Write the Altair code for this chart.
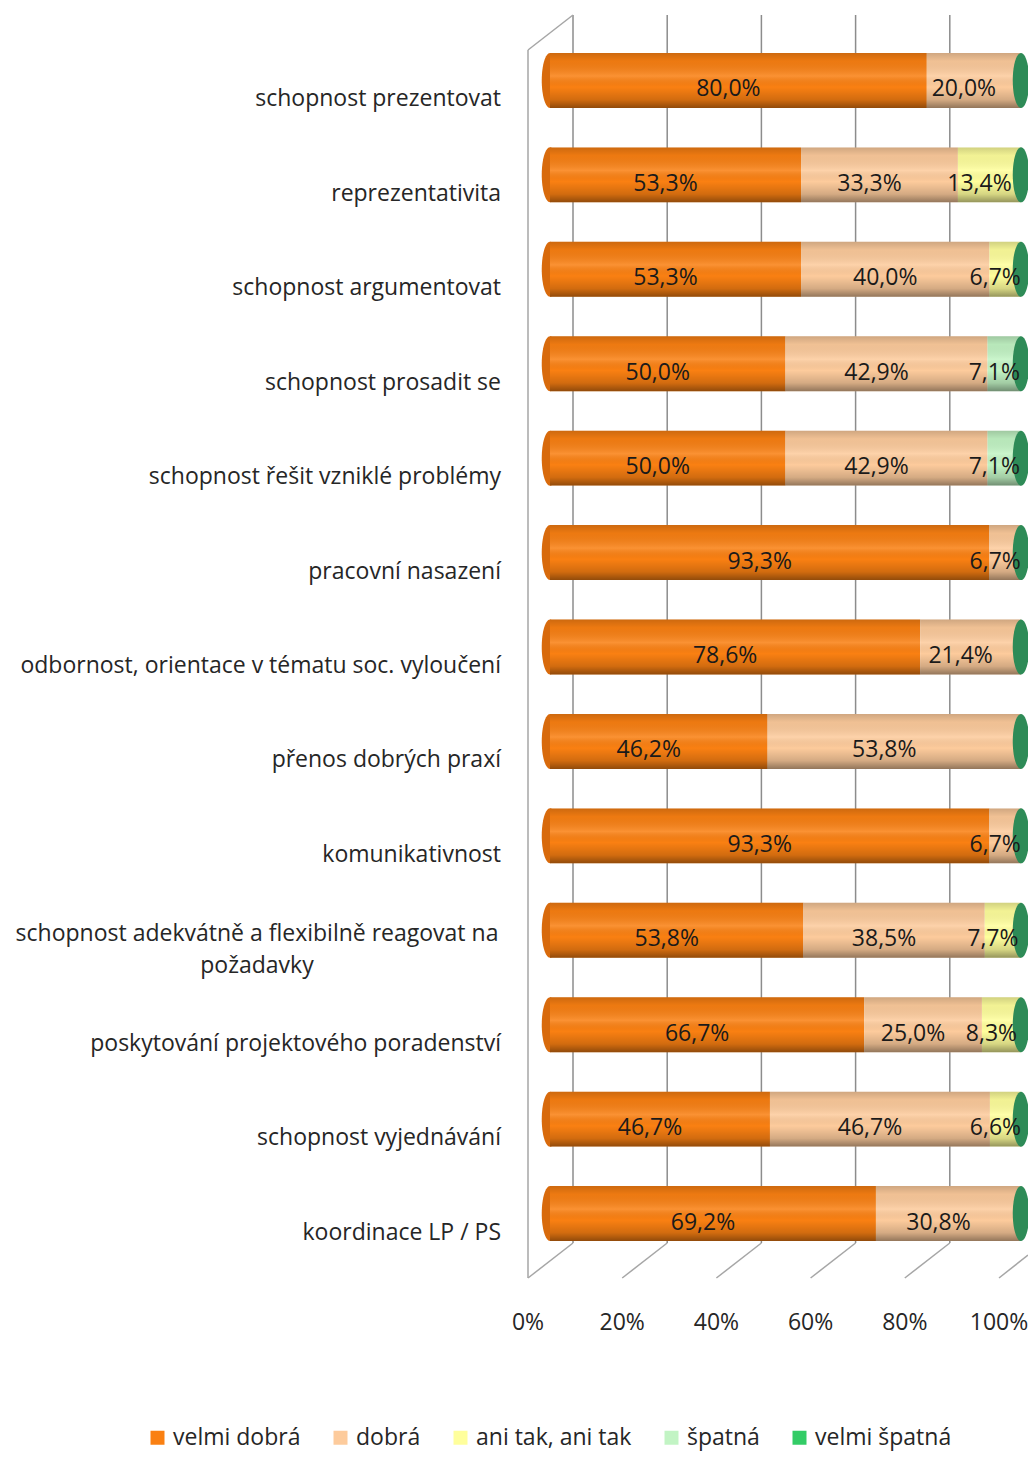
import altair as alt
import pandas as pd

categories = [
    "schopnost prezentovat",
    "reprezentativita",
    "schopnost argumentovat",
    "schopnost prosadit se",
    "schopnost řešit vzniklé problémy",
    "pracovní nasazení",
    "odbornost, orientace v tématu soc. vyloučení",
    "přenos dobrých praxí",
    "komunikativnost",
    "schopnost adekvátně a flexibilně reagovat na\npožadavky",
    "poskytování projektového poradenství",
    "schopnost vyjednávání",
    "koordinace LP / PS",
]
series = ["velmi dobrá", "dobrá", "ani tak, ani tak", "špatná", "velmi špatná"]
velmi_dobra = [80.0, 53.3, 53.3, 50.0, 50.0, 93.3, 78.6, 46.2, 93.3, 53.8, 66.7, 46.7, 69.2]
dobra = [20.0, 33.3, 40.0, 42.9, 42.9, 6.7, 21.4, 53.8, 6.7, 38.5, 25.0, 46.7, 30.8]
ani_tak = [0.0, 13.4, 6.7, 0.0, 0.0, 0.0, 0.0, 0.0, 0.0, 7.7, 8.3, 6.6, 0.0]
spatna = [0.0, 0.0, 0.0, 7.1, 7.1, 0.0, 0.0, 0.0, 0.0, 0.0, 0.0, 0.0, 0.0]
velmi_spatna = [0.0, 0.0, 0.0, 0.0, 0.0, 0.0, 0.0, 0.0, 0.0, 0.0, 0.0, 0.0, 0.0]
x_ticks = [0, 20, 40, 60, 80, 100]

colors = ["#FA8012", "#FDCB9C", "#FFFF9C", "#C2F4C4", "#33CC66"]

all_vals = [velmi_dobra, dobra, ani_tak, spatna, velmi_spatna]
rows = []
for i, c in enumerate(categories):
    for j, s in enumerate(series):
        rows.append({"cat": c, "series": s, "value": all_vals[j][i], "order": j})
df = pd.DataFrame(rows)
gdf = pd.DataFrame({"v": x_ticks})
cdf = pd.DataFrame({"cat": categories})

FONT = "Open Sans"
FS = 23
TXT = "#262626"
xscale = alt.Scale(domain=[0, 100], nice=False, zero=True)
ydef = alt.Y("cat:N", scale=alt.Scale(domain=categories, paddingInner=0.418, paddingOuter=0.402), axis=None)


def xq(field):
    return alt.X(field, scale=xscale, axis=None)


# back wall gridlines
back_grid = alt.Chart(gdf).transform_filter("datum.v < 100").mark_rule(
    color="#8C8C8C", strokeWidth=1.5, xOffset=23, x2Offset=23
).encode(x=xq("v:Q"), x2="v:Q", y=alt.value(0), y2=alt.value(1228))

floor = alt.Chart(gdf).transform_filter("datum.v < 100").mark_rule(
    color="#A6A6A6", strokeWidth=1.5, xOffset=-22, x2Offset=23
).encode(x=xq("v:Q"), x2="v:Q", y=alt.value(1263), y2=alt.value(1228))

floor_last = alt.Chart(gdf).transform_filter("datum.v == 100").mark_rule(
    color="#A6A6A6", strokeWidth=1.5, xOffset=-22, x2Offset=7
).encode(x=xq("v:Q"), x2="v:Q", y=alt.value(1263), y2=alt.value(1240))

wall_v = alt.Chart(gdf).transform_filter("datum.v == 0").mark_rule(
    color="#A6A6A6", strokeWidth=1.5, xOffset=-22, x2Offset=-22
).encode(x=xq("v:Q"), x2="v:Q", y=alt.value(35), y2=alt.value(1263))

wall_d = alt.Chart(gdf).transform_filter("datum.v == 0").mark_rule(
    color="#A6A6A6", strokeWidth=1.5, xOffset=-22, x2Offset=23
).encode(x=xq("v:Q"), x2="v:Q", y=alt.value(35), y2=alt.value(0))

tick_labels = alt.Chart(gdf).transform_calculate(lbl="datum.v + '%'").mark_text(
    font=FONT, fontSize=FS, color=TXT, dx=-22
).encode(x=xq("v:Q"), y=alt.value(1308), text="lbl:N")

ellipse = "M -0.3 0 A 0.3 1 0 1 0 0.3 0 A 0.3 1 0 1 0 -0.3 0 Z"

totals = alt.Chart(df).transform_aggregate(total="sum(value)", groupby=["cat"]).transform_calculate(start="0")

left_cap = totals.mark_point(shape=ellipse, size=3025, filled=True, color="#D86A0C", opacity=1).encode(
    x=xq("start:Q"), y=ydef
)

bars = alt.Chart(df).mark_bar().encode(
    x=alt.X("value:Q", stack="zero", scale=xscale, axis=None),
    y=ydef,
    color=alt.Color("series:N", scale=alt.Scale(domain=series, range=colors),
                    legend=alt.Legend(orient="none", legendX=-404, legendY=1411, direction="horizontal",
                                      title=None, symbolType="square", symbolSize=196, symbolStrokeWidth=0,
                                      labelFont=FONT, labelFontSize=FS, labelColor=TXT,
                                      columnPadding=28, labelOffset=4)),
    order=alt.Order("order:Q"),
)

grad = alt.Gradient(
    gradient="linear", x1=0, x2=0, y1=0, y2=1,
    stops=[
        alt.GradientStop(color="rgba(0,0,0,0.18)", offset=0),
        alt.GradientStop(color="rgba(0,0,0,0.05)", offset=0.15),
        alt.GradientStop(color="rgba(255,255,255,0.14)", offset=0.42),
        alt.GradientStop(color="rgba(0,0,0,0.0)", offset=0.62),
        alt.GradientStop(color="rgba(0,0,0,0.16)", offset=0.85),
        alt.GradientStop(color="rgba(0,0,0,0.42)", offset=1),
    ],
)
overlay = totals.mark_bar(color=grad).encode(x=xq("start:Q"), x2="total:Q", y=ydef)

right_cap = totals.mark_point(shape=ellipse, size=3025, filled=True, color="#2E8B57", opacity=1).encode(
    x=xq("total:Q"), y=ydef
)

values = alt.Chart(df).transform_filter("datum.value > 0").transform_stack(
    stack="value", groupby=["cat"], as_=["x0", "x1"], sort=[alt.SortField("order", "ascending")]
).transform_calculate(
    mid="(datum.x0 + datum.x1) / 2",
    lbl="replace(format(datum.value, '.1f'), '.', ',') + '%'",
).mark_text(font=FONT, fontSize=FS, color="#1a1a1a", dx=-10, dy=9).encode(
    x=xq("mid:Q"), y=ydef, text="lbl:N"
)

cat_single = alt.Chart(cdf).transform_filter("indexof(datum.cat, '\\n') < 0").mark_text(
    align="right", font=FONT, fontSize=FS, color=TXT, dy=19
).encode(x=alt.value(-49), y=ydef, text="cat:N")

cat_multi = alt.Chart(cdf).transform_filter("indexof(datum.cat, '\\n') >= 0").mark_text(
    align="center", font=FONT, fontSize=FS, color=TXT, dy=4, lineBreak="\n", lineHeight=32
).encode(x=alt.value(-293), y=ydef, text="cat:N")

chart = alt.layer(
    back_grid, floor, floor_last, wall_v, wall_d, tick_labels, left_cap, bars, overlay, right_cap,
    values, cat_single, cat_multi
).properties(
    width=471, height=1264,
    autosize=alt.AutoSizeParams(type="none"),
    padding={"left": 542, "top": 7, "right": 7, "bottom": 174},
).configure_view(stroke=None)

chart.save("out.html", embed_options={"renderer": "svg", "actions": False})
